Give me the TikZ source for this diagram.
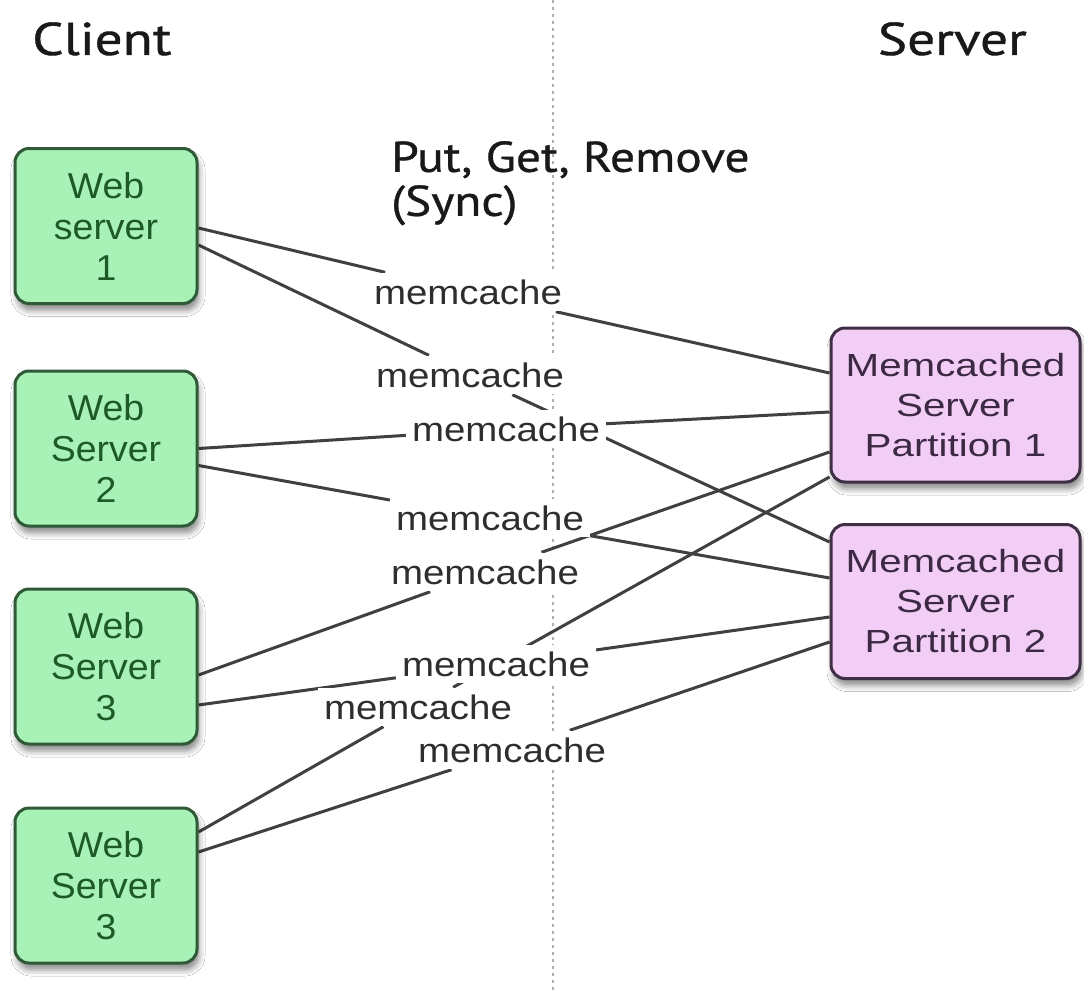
\documentclass[tikz,border=0pt]{standalone}
\usepackage{fontspec}
\setmainfont{Liberation Sans}
\newfontfamily\headfont[FakeStretch=1.2,FakeBold=0.8]{PT Sans}
\newfontfamily\opsfont[FakeStretch=1.15,FakeBold=0.8]{PT Sans}
\newfontfamily\greenfont[FakeStretch=1.04]{Liberation Sans}
\newfontfamily\pinkfont[FakeStretch=1.26]{Liberation Sans}
\newfontfamily\memfont[FakeStretch=1.13]{Liberation Sans}
\usetikzlibrary{backgrounds,shadows.blur}
\definecolor{wsfill}{HTML}{A9F2B7}
\definecolor{wsline}{HTML}{2E5A37}
\definecolor{wstext}{HTML}{1E5A28}
\definecolor{pfill}{HTML}{F2CEF6}
\definecolor{pline}{HTML}{3F2F45}
\definecolor{ptext}{HTML}{3C2A44}
\definecolor{connc}{HTML}{404040}
\definecolor{sepc}{HTML}{B0B0B0}
\begin{document}
\begin{tikzpicture}[x=1pt,y=-1pt,
  wsbox/.style={draw=wsline, fill=wsfill, line width=3pt, rounded corners=14pt,
    minimum width=182pt, minimum height=155pt, align=center, text=wstext,
    font=\greenfont\fontsize{36}{41}\selectfont,
    blur shadow={shadow xshift=2pt, shadow yshift=-7pt, shadow blur radius=6pt, shadow opacity=45}},
  pbox/.style={draw=pline, fill=pfill, line width=3pt, rounded corners=14pt,
    minimum width=249pt, minimum height=154pt, align=center, text=ptext,
    font=\pinkfont\fontsize{32}{40}\selectfont,
    blur shadow={shadow xshift=2pt, shadow yshift=-7pt, shadow blur radius=6pt, shadow opacity=45}},
  memlabel/.style={fill=white, inner xsep=6pt, inner ysep=7pt, text=black!82,
    font=\memfont\fontsize{34}{34}\selectfont},
  headtext/.style={text=black!90, font=\headfont\fontsize{46}{46}\selectfont},
  conn/.style={draw=connc, line width=3pt},
  sepline/.style={draw=sepc, line width=2pt, dash pattern=on 3pt off 4pt}
]
\useasboundingbox (0,0) rectangle (1084,990);

% headings
\node[headtext, anchor=base west, inner sep=0pt] (client) at (32,55) {Client};
\node[headtext, anchor=base east, inner sep=0pt] (server) at (1027,55) {Server};
\node[headtext, anchor=north west, inner sep=0pt, align=left,
  font=\opsfont\fontsize{43}{44}\selectfont] (ops) at (391,141) {Put, Get, Remove\\(Sync)};

% client boxes
\node[wsbox] (ws1) at (106,226) {Web\\server\\1};
\node[wsbox] (ws2) at (106,448.5) {Web\\Server\\2};
\node[wsbox] (ws3) at (106,666.5) {Web\\Server\\3};
\node[wsbox] (ws4) at (106,885.5) {Web\\Server\\3};

% server boxes
\node[pbox] (p1) at (955.5,405) {Memcached\\Server\\Partition 1};
\node[pbox] (p2) at (955.5,601.5) {Memcached\\Server\\Partition 2};

% memcache labels
\node[memlabel] (m1) at (468,292) {memcache};
\node[memlabel] (m2) at (470,375) {memcache};
\node[memlabel] (m3) at (506,429) {memcache};
\node[memlabel] (m4) at (490,518) {memcache};
\node[memlabel] (m5) at (485,572) {memcache};
\node[memlabel] (m6) at (496,664) {memcache};
\node[memlabel] (m7) at (418,707) {memcache};
\node[memlabel] (m8) at (512,750) {memcache};

\begin{scope}[on background layer]
  \fill[white] (0,0) rectangle (1084,990);
  \coordinate (septop) at (553,0);
  \coordinate (sepbot) at (553,990);
  \draw[sepline] (septop) -- (sepbot);
  \draw[conn] ([yshift=-2pt]ws1.east) -- (m1) -- ([yshift=32pt]p1.west);
  \draw[conn] ([yshift=-19pt]ws1.east) -- (m2) -- ([yshift=59.5pt]p2.west);
  \draw[conn] ([yshift=0pt]ws2.east) -- (m3) -- ([yshift=-7pt]p1.west);
  \draw[conn] ([yshift=-17pt]ws2.east) -- (m4) -- ([yshift=23.5pt]p2.west);
  \draw[conn] ([yshift=-8.5pt]ws3.east) -- (m5) -- ([yshift=-47pt]p1.west);
  \draw[conn] ([yshift=-38.5pt]ws3.east) -- (m6) -- ([yshift=-15.5pt]p2.west);
  \draw[conn] ([yshift=53.5pt]ws4.east) -- (m7) -- ([yshift=-72pt]p1.west);
  \draw[conn] ([yshift=33.5pt]ws4.east) -- (m8) -- ([yshift=-40.5pt]p2.west);
\end{scope}
\end{tikzpicture}
\end{document}
